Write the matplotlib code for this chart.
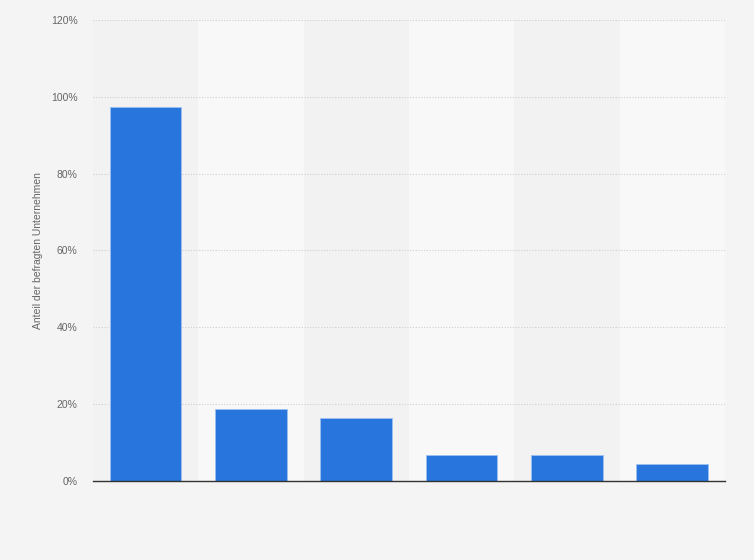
import matplotlib
matplotlib.use('Agg')
from matplotlib import pyplot as plt
from matplotlib.ticker import FuncFormatter

plt.rcParams['font.family'] = ['Liberation Sans', 'DejaVu Sans']

# Values (x labels are not shown in the reference)
categories = ['', '', '', '', '', '']
shares = [97.3, 18.7, 16.4, 6.8, 6.8, 4.4]
yticks = [0, 20, 40, 60, 80, 100, 120]

BG = '#f4f4f4'
BAND_LIGHT = '#f8f8f8'
BAND_DARK = '#f2f2f2'
BAR_COLOR = '#2876dd'

fig = plt.figure(figsize=(7.54, 5.6), dpi=100)
fig.patch.set_facecolor(BG)
ax = fig.add_axes([0.1233, 0.1411, 0.8382, 0.8232])
ax.set_facecolor(BAND_DARK)

xs = list(range(len(shares)))
for i in xs:
    ax.axvspan(i - 0.5, i + 0.5, color=BAND_LIGHT if i % 2 else BAND_DARK,
               zorder=0, lw=0)

ax.bar(xs, shares, width=0.68, color=BAR_COLOR, edgecolor='#9cc1f0',
       linewidth=0.6, zorder=3)

ax.set_xlim(-0.5, len(shares) - 0.5)
ax.set_ylim(0, 120)
ax.set_yticks(yticks)
ax.yaxis.set_major_formatter(FuncFormatter(lambda v, p: f'{v:.0f}%'))
ax.set_xticks(xs)
ax.set_xticklabels(categories)
ax.tick_params(axis='both', length=0, labelsize=7.5, colors='#666666')
ax.tick_params(axis='y', pad=11)
ax.tick_params(axis='x', pad=4)
ax.grid(axis='y', color='#cfcfcf', linestyle=(0, (1, 1.5)), linewidth=0.8, zorder=1)

for side in ['top', 'right', 'left']:
    ax.spines[side].set_visible(False)
ax.spines['bottom'].set_color('#333333')
ax.spines['bottom'].set_linewidth(1.0)
ax.spines['bottom'].set_zorder(4)

ax.set_ylabel('Anteil der befragten Unternehmen', fontsize=7.5, color='#666666',
              labelpad=6)

plt.savefig('out.png', dpi=100, facecolor=BG)
